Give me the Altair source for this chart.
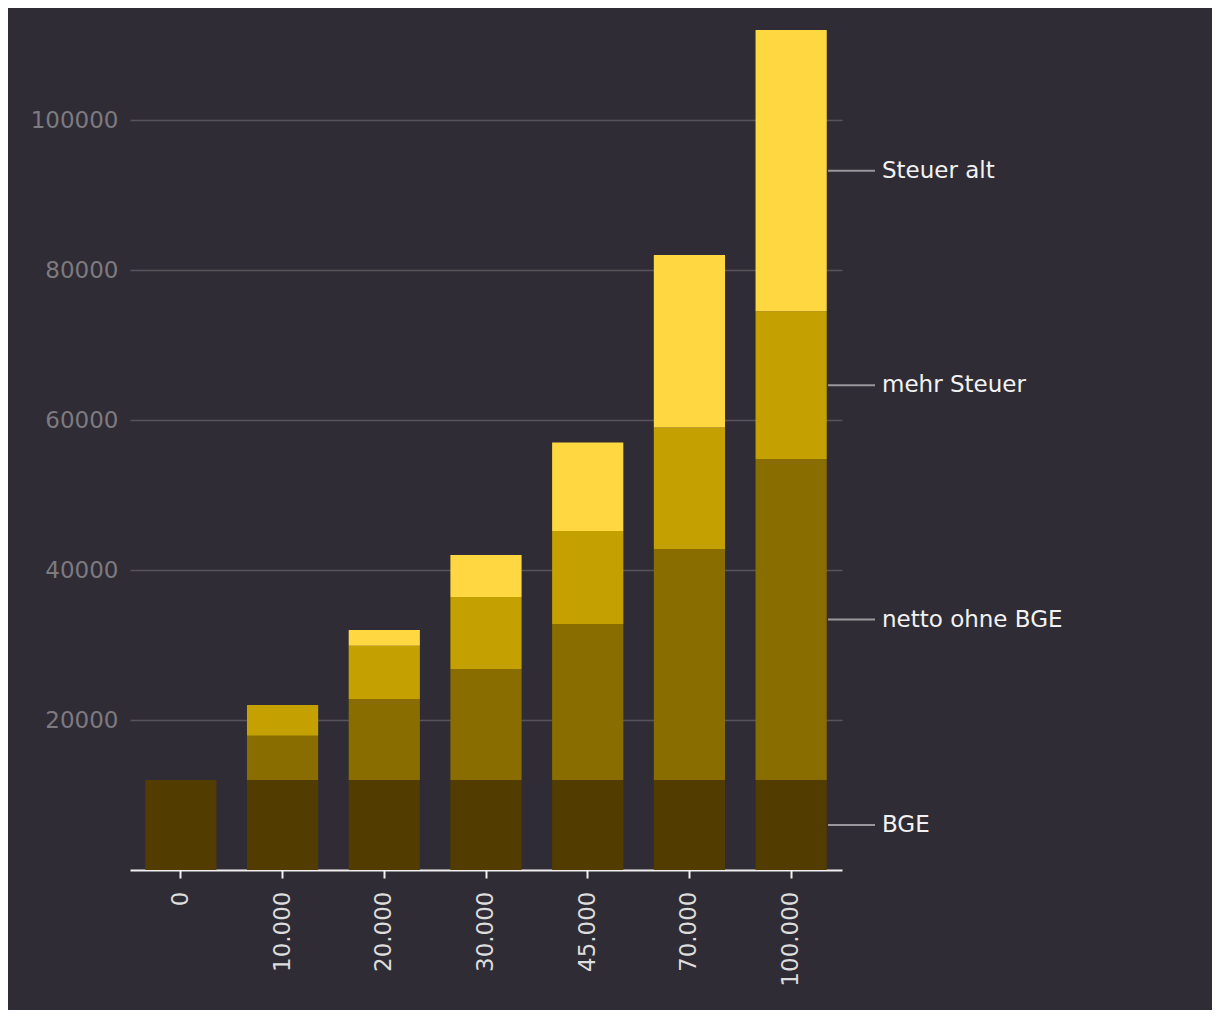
import altair as alt
import pandas as pd

categories = ["0", "10.000", "20.000", "30.000", "45.000", "70.000", "100.000"]
segments = ["BGE", "netto ohne BGE", "mehr Steuer", "Steuer alt"]
bge = [12000, 12000, 12000, 12000, 12000, 12000, 12000]
netto_ohne_bge = [0, 5900, 10800, 14800, 20800, 30800, 42800]
mehr_steuer = [0, 4100, 7100, 9600, 12400, 16200, 19700]
steuer_alt = [0, 0, 2100, 5600, 11800, 23000, 37500]
colors = ["#533c00", "#8a6d00", "#c4a000", "#ffd740"]

series = [bge, netto_ohne_bge, mehr_steuer, steuer_alt]
rows = []
for si, (seg, vals) in enumerate(zip(segments, series)):
    for ci, (cat, v) in enumerate(zip(categories, vals)):
        rows.append({"Einkommen": cat, "Teil": seg, "order": si, "Wert": v})
df = pd.DataFrame(rows)

# label positions: midpoints of the last bar's segments
last = [s[-1] for s in series]
lab_rows = []
cum = 0
for seg, v in zip(segments, last):
    lab_rows.append({"Teil": seg, "mid": cum + v / 2})
    cum += v
labels = pd.DataFrame(lab_rows)

FONT = "DejaVu Sans"
FS = 23
yscale = alt.Scale(domain=[0, 112000], nice=False)

bars = alt.Chart(df).mark_bar().encode(
    x=alt.X("Einkommen:N", sort=categories,
            scale=alt.Scale(paddingInner=0.3, paddingOuter=0.15),
            axis=alt.Axis(title=None, labelAngle=270, labelColor="#dddddd",
                          labelFontSize=FS, labelFont=FONT, domainColor="#f0f0f0",
                          domainWidth=2, tickColor="#f0f0f0", tickWidth=2,
                          tickSize=8, labelPadding=13)),
    y=alt.Y("Wert:Q", stack="zero", scale=yscale,
            axis=alt.Axis(title=None, values=[20000, 40000, 60000, 80000, 100000],
                          format="d", domain=False, ticks=False, labelPadding=12,
                          labelColor="#7d7a80", labelFontSize=FS, labelFont=FONT,
                          gridColor="#57535b", gridWidth=1.5)),
    color=alt.Color("Teil:N", sort=segments,
                    scale=alt.Scale(domain=segments, range=colors), legend=None),
    order=alt.Order("order:Q"),
)

rules = alt.Chart(labels).mark_rule(color="#9a979c", strokeWidth=2).encode(
    y=alt.Y("mid:Q", scale=yscale),
    x=alt.value(698),
    x2=alt.value(745),
)

texts = alt.Chart(labels).mark_text(align="left", baseline="middle", color="#f2f2f2",
                                     fontSize=FS, font=FONT).encode(
    y=alt.Y("mid:Q", scale=yscale),
    x=alt.value(752),
    text="Teil:N",
)

chart = alt.layer(bars, rules, texts).properties(
    width=712, height=840,
    background="#302c35",
    autosize=alt.AutoSizeParams(type="none"),
    padding={"left": 122, "top": 22, "right": 370, "bottom": 140},
).configure_view(stroke=None)

chart.save("out.html", embed_options={"renderer": "svg", "actions": False})
